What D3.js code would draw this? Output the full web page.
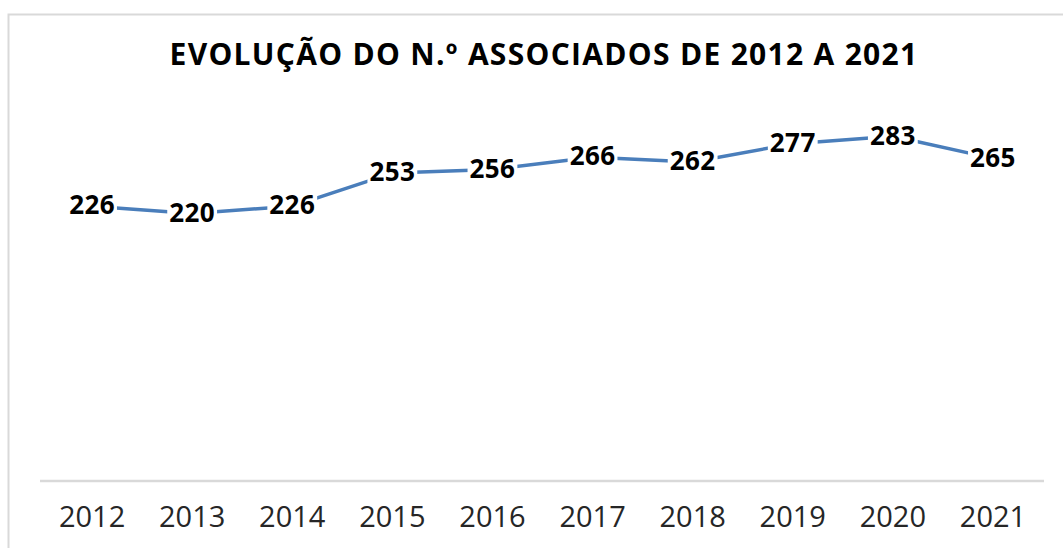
<!DOCTYPE html>
<html>
<head>
<meta charset="utf-8">
<script src="https://cdn.jsdelivr.net/npm/d3@7"></script>
<style>
  body { margin: 0; background: #fff; }
  svg { display: block; }
</style>
</head>
<body>
<svg id="chart" width="1063" height="548"></svg>
<script>
// anos e n.º de associados
var anos = ['2012','2013','2014','2015','2016','2017','2018','2019','2020','2021'];
var associados = [226, 220, 226, 253, 256, 266, 262, 277, 283, 265];
var titulo = 'EVOLUÇÃO DO N.º ASSOCIADOS DE 2012 A 2021';

var svg = d3.select('#chart');

// moldura do gráfico (só se vê o topo e a esquerda)
svg.append('rect')
  .attr('x', 8.5).attr('y', 14.5)
  .attr('width', 1200).attr('height', 700)
  .attr('fill', '#fff')
  .attr('stroke', '#d9d9d9')
  .attr('stroke-width', 2);

var x = d3.scaleBand().domain(anos).range([42, 1043]);
var y = d3.scaleLinear().domain([0, 300]).range([483, 115.5]);

svg.append('text')
  .attr('x', 544).attr('y', 65)
  .attr('text-anchor', 'middle')
  .attr('font-family', 'Open Sans, sans-serif')
  .attr('font-weight', 'bold')
  .attr('font-size', '30px')
  .attr('letter-spacing', '1.3px')
  .attr('fill', '#000')
  .text(titulo);

// eixo x
var eixo = svg.append('g')
  .attr('transform', 'translate(0,481)')
  .call(d3.axisBottom(x).tickSize(0).tickPadding(25));
eixo.select('.domain')
  .attr('stroke', '#d9d9d9')
  .attr('stroke-width', 2.5)
  .attr('d', 'M40,0H1044');
eixo.selectAll('text')
  .attr('font-family', 'Open Sans, sans-serif')
  .attr('font-size', '29px')
  .attr('fill', '#262626');

var cx = function(d, i) { return x(anos[i]) + x.bandwidth() / 2; };

var linha = d3.line()
  .x(function(d, i) { return cx(d, i); })
  .y(function(d) { return y(d); });

svg.append('path')
  .datum(associados)
  .attr('d', linha)
  .attr('fill', 'none')
  .attr('stroke', '#4a7ebb')
  .attr('stroke-width', 3.5)
  .attr('stroke-linejoin', 'round');

// rótulos de dados com fundo branco
var rot = svg.append('g').selectAll('g')
  .data(associados)
  .enter().append('g');

rot.append('text')
  .attr('x', cx)
  .attr('y', function(d) { return y(d); })
  .attr('dy', '0.32em')
  .attr('text-anchor', 'middle')
  .attr('font-family', 'Open Sans, sans-serif')
  .attr('font-weight', 'bold')
  .attr('font-size', '26px')
  .attr('letter-spacing', '0.4px')
  .attr('fill', '#000')
  .text(function(d) { return d; });

rot.each(function() {
  var g = d3.select(this);
  var b = g.select('text').node().getBBox();
  g.insert('rect', 'text')
    .attr('x', b.x - 2).attr('y', b.y + 4)
    .attr('width', b.width + 4).attr('height', b.height - 8)
    .attr('fill', '#fff');
});
</script>
</body>
</html>
